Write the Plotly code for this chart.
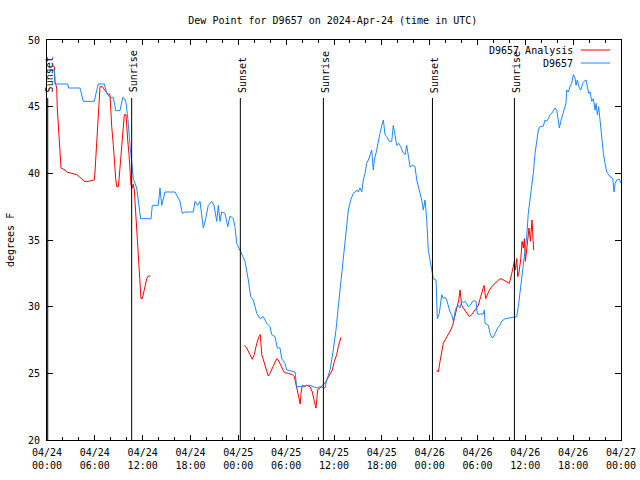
import pandas as pd
import plotly.graph_objects as go

BASE = pd.Timestamp("2024-04-24 00:00")

# D9657 observations: hours after 2024-04-24 00:00 UTC, dew point (F)
obs_hours = [0.09, 0.92, 1.0, 2.6, 2.7, 4.14, 4.55, 5.93, 6.15, 6.43, 7.19, 7.49, 7.9, 8.32, 8.62, 9.16,
             9.5, 9.72, 9.91, 10.16, 10.41, 10.62, 10.83, 11.25, 11.45, 11.75, 13.05, 13.21, 13.96, 14.17,
             14.39, 14.8, 16.06, 16.47, 16.68, 16.97, 17.31, 18.35, 18.57, 18.9, 19.19, 19.61, 19.91, 20.23,
             20.66, 20.95, 21.29, 21.49, 21.7, 21.91, 22.33, 22.67, 22.96, 23.37, 23.58, 23.8, 24.21, 24.62,
             24.84, 25.25, 25.55, 25.88, 26.31, 26.72, 27.13, 27.56, 27.97, 28.19, 28.6, 28.89, 29.23, 29.44,
             29.85, 30.07, 31.11, 31.32, 31.95, 32.58, 32.99, 33.41, 33.83, 34.25, 34.87, 35.09, 35.5, 35.91,
             36.25, 36.54, 36.75, 36.97, 37.17, 37.38, 37.59, 37.8, 38.1, 38.42, 38.64, 38.85, 39.05, 39.26,
             39.48, 39.68, 39.89, 40.1, 40.31, 40.52, 40.73, 40.93, 41.06, 41.36, 41.56, 41.77, 41.99, 42.19,
             42.4, 42.61, 42.94, 43.24, 43.44, 43.65, 43.87, 44.12, 44.37, 44.62, 44.91, 45.12, 45.32, 45.54,
             45.95, 46.16, 46.38, 46.58, 46.79, 47.0, 47.2, 47.42, 47.63, 47.83, 48.04, 48.26, 48.46, 48.8,
             48.96, 49.21, 49.39, 49.51, 49.71, 49.93, 50.14, 50.34, 50.55, 50.77, 50.97, 51.18, 51.39, 51.6,
             51.81, 52.02, 52.23, 52.44, 52.65, 52.85, 53.06, 53.27, 53.48, 53.82, 53.98, 54.73, 54.86, 54.95,
             55.36, 55.57, 55.78, 55.98, 56.19, 56.41, 56.61, 56.83, 57.04, 57.45, 58.92, 59.12, 59.33, 59.55,
             59.75, 59.96, 60.17, 60.37, 60.59, 60.8, 61.0, 61.22, 61.43, 61.63, 61.84, 62.26, 62.47, 62.68,
             62.89, 63.1, 63.31, 63.51, 63.73, 63.94, 64.14, 64.27, 64.44, 64.7, 64.85, 65.1, 65.19, 65.39,
             65.61, 65.82, 66.02, 66.23, 66.36, 66.52, 66.77, 66.95, 67.2, 67.37, 67.62, 67.78, 67.95, 68.12,
             68.33, 68.53, 68.74, 68.87, 69.03, 69.2, 69.37, 69.58, 69.79, 70.0, 70.21, 70.63, 70.97, 71.13,
             71.26, 71.46, 71.79, 72.0]
obs_dewpt = [47.75, 47.75, 46.7, 46.7, 46.4, 46.4, 45.4, 45.4, 46.0, 46.7, 46.7, 46.0, 45.7, 45.7, 44.7, 44.7,
             45.7, 45.6, 45.3, 44.0, 42.1, 40.6, 39.6, 38.9, 37.9, 36.6, 36.6, 37.6, 37.6, 38.9,
             37.6, 38.6, 38.6, 38.1, 37.9, 37.0, 37.1, 37.1, 37.9, 37.6, 37.9, 35.9, 36.6, 37.6,
             37.9, 37.6, 36.4, 37.6, 36.4, 37.1, 37.0, 36.0, 36.8, 36.6, 36.0, 34.75, 34.25, 33.75,
             33.4, 32.0, 30.75, 30.5, 29.5, 29.1, 29.25, 28.75, 28.5, 27.9, 27.75, 26.9, 26.9, 26.1,
             25.75, 25.25, 25.1, 24.0, 24.0, 24.1, 24.1, 24.0, 23.9, 24.0, 23.9, 24.5, 25.25, 26.75,
             28.25, 30.0, 31.25, 32.75, 34.0, 35.25, 36.25, 37.25, 38.0, 38.5, 38.6, 38.75, 38.6, 38.9,
             38.6, 39.5, 40.0, 40.75, 41.0, 41.4, 41.75, 40.25, 41.0, 41.75, 42.25, 43.0, 43.6, 44.0,
             42.9, 42.75, 42.4, 42.4, 43.6, 42.75, 42.1, 42.25, 42.0, 41.6, 41.4, 42.1, 41.25, 40.5,
             40.6, 40.5, 39.5, 39.0, 38.6, 38.0, 37.25, 38.0, 36.5, 34.25, 33.5, 32.9, 32.1, 32.0,
             29.1, 29.5, 30.5, 30.9, 30.6, 30.7, 30.5, 30.0, 29.6, 29.4, 28.9, 29.6, 30.0, 30.1,
             29.9, 30.4, 30.3, 30.4, 30.2, 30.0, 30.1, 30.3, 30.45, 30.4, 29.45, 29.45, 29.75, 28.75,
             28.6, 28.0, 27.7, 27.7, 28.0, 28.25, 28.5, 28.6, 28.9, 29.1, 29.25, 30.0, 31.0, 32.1,
             33.25, 34.25, 35.25, 37.0, 38.0, 39.0, 40.0, 41.5, 42.25, 43.25, 43.5, 43.55, 44.0, 43.9,
             44.1, 44.4, 44.5, 44.75, 44.9, 44.75, 43.75, 43.4, 43.9, 44.4, 44.75, 45.25, 46.25, 46.1,
             46.5, 46.75, 47.4, 47.15, 46.6, 47.0, 46.4, 46.25, 46.75, 46.9, 47.0, 46.6, 46.0, 46.1,
             45.4, 45.6, 44.75, 45.25, 44.4, 45.0, 43.9, 42.5, 41.5, 40.75, 40.1, 39.75, 39.6, 38.6,
             39.25, 39.5, 39.55, 39.25]

# D9657 Analysis, three separate segments
ana1_hours = [0.66, 0.92, 1.0, 1.22, 1.29, 1.42, 1.54, 1.72, 1.76, 2.26, 2.47, 3.1, 3.73, 4.05, 4.35, 4.68,
              5.18, 5.93, 6.02, 6.15, 6.23, 6.36, 6.43, 6.56, 6.65, 6.94, 7.15, 7.53, 7.9, 7.99, 8.12, 8.32,
              8.44, 8.62, 8.74, 8.94, 9.03, 9.16, 9.28, 9.45, 9.57, 9.7, 9.91, 10.0, 10.12, 10.29, 10.41,
              10.54, 10.7, 10.83, 10.95, 11.13, 11.25, 11.38, 11.54, 11.67, 11.79, 11.95, 12.13, 12.29,
              12.51, 12.71, 12.96]
ana1_dewpt = [48.1, 48.0, 46.9, 46.4, 44.9, 43.6, 42.25, 40.9, 40.4, 40.25, 40.1, 40.0, 39.9, 39.75, 39.6, 39.4,
              39.4, 39.5, 40.1, 41.4, 42.4, 43.6, 44.9, 46.1, 46.5, 46.5, 46.3, 46.0, 45.9, 44.75, 43.5, 42.1,
              40.9, 39.6, 39.0, 39.0, 39.5, 40.6, 41.4, 42.4, 43.9, 44.4, 44.4, 43.4, 42.5, 41.4, 40.25,
              39.1, 38.9, 39.2, 38.75, 36.9, 35.4, 33.9, 32.9, 31.4, 30.6, 30.6, 31.0, 31.5,
              32.1, 32.3, 32.3]
ana2_hours = [24.75, 25.05, 25.46, 25.75, 26.0, 26.31, 26.59, 26.76, 26.94, 27.35, 27.76, 27.97, 28.39, 28.81,
              29.01, 29.44, 29.77, 30.27, 30.77, 31.02, 31.32, 31.61, 31.77, 31.86, 32.03, 32.36, 32.58,
              32.99, 33.28, 33.53, 33.74, 33.87, 33.96, 34.25, 34.53, 34.87, 35.21, 35.5, 35.79, 36.04,
              36.34, 36.54, 36.88]
ana2_dewpt = [27.1, 26.9, 26.4, 26.05, 26.4, 27.25, 27.75, 27.9, 26.4, 25.6, 24.8, 25.0, 25.5, 26.1,
              26.0, 25.5, 25.05, 25.0, 24.9, 24.75, 23.9, 23.25, 22.7, 23.5, 24.1, 24.0, 24.1,
              24.0, 23.6, 22.9, 22.4, 23.25, 23.8, 23.9, 24.1, 24.25, 24.6, 25.0, 25.25, 25.9,
              26.4, 27.0, 27.7]
ana3_hours = [48.88, 49.09, 49.3, 49.51, 49.71, 49.93, 50.14, 50.34, 50.64, 50.89, 51.05, 51.31, 51.47, 51.65,
              51.81, 51.9, 52.02, 52.23, 52.65, 52.98, 53.27, 53.69, 54.1, 54.4, 54.65, 54.82, 55.03, 55.24,
              55.49, 55.92, 56.41, 56.83, 57.24, 57.75, 58.0, 58.3, 58.51, 58.63, 58.76, 58.93, 59.05, 59.21,
              59.43, 59.59, 59.75, 59.88, 60.01, 60.17, 60.3, 60.46, 60.64, 60.76, 60.84, 60.97, 61.06]
ana3_dewpt = [25.25, 25.1, 25.9, 26.6, 27.25, 27.5, 27.7, 27.9, 28.25, 28.6, 29.0, 29.6, 30.1, 30.5,
              31.25, 30.6, 30.1, 29.9, 29.5, 29.25, 29.4, 29.75, 30.1, 30.75, 31.4, 31.6, 30.6, 30.9,
              31.25, 31.6, 31.9, 32.1, 32.0, 31.8, 31.75, 32.5, 33.1, 33.4, 32.75, 33.6, 32.25, 32.6,
              33.6, 34.9, 34.4, 35.1, 33.4, 34.5, 35.25, 35.9, 34.9, 36.1, 36.5, 35.0, 34.25]

# Sun events (hours after 2024-04-24 00:00 UTC)
sun_hours = [0.09, 10.62, 24.25, 34.67, 48.35, 58.63]
sun_labels = ["Sunset", "Sunrise", "Sunset", "Sunrise", "Sunset", "Sunrise"]
sun_line_top = 45.65
sun_label_base = 45.9

tick_hours = list(range(0, 73, 6))
tick_labels = [f"{(BASE + pd.Timedelta(hours=h)).strftime('%m/%d')}<br>{(BASE + pd.Timedelta(hours=h)).strftime('%H:%M')}"
               for h in tick_hours]

def to_time(hours):
    return [BASE + pd.Timedelta(hours=h) for h in hours]

ana_x, ana_y = [], []
for hs, vs in [(ana1_hours, ana1_dewpt), (ana2_hours, ana2_dewpt), (ana3_hours, ana3_dewpt)]:
    ana_x += to_time(hs) + [None]
    ana_y += vs + [None]

RED = "#ff0000"
BLUE = "#1a88ff"
FONT = "DejaVu Sans Mono"

fig = go.Figure()
fig.add_trace(go.Scatter(x=ana_x, y=ana_y, mode="lines", name="D9657 Analysis",
                         line=dict(color=RED, width=1), connectgaps=False))
fig.add_trace(go.Scatter(x=to_time(obs_hours), y=obs_dewpt, mode="lines", name="D9657",
                         line=dict(color=BLUE, width=1)))

for t, lab in zip(to_time(sun_hours), sun_labels):
    fig.add_shape(type="line", xref="x", yref="y", x0=t, x1=t, y0=20, y1=sun_line_top,
                  line=dict(color="black", width=1))
    fig.add_annotation(x=t, y=sun_label_base, xref="x", yref="y", text=lab, textangle=-90,
                       showarrow=False, xanchor="center", yanchor="bottom", xshift=2,
                       font=dict(family=FONT, size=10, color="black"))

# Legend drawn gnuplot-style: text then line sample
legend_rows = [("D9657 Analysis", RED, 0.975), ("D9657", BLUE, 0.9425)]
for name, col, py in legend_rows:
    fig.add_annotation(x=0.92, y=py, xref="paper", yref="paper", text=name, showarrow=False,
                       xanchor="right", yanchor="middle", font=dict(family=FONT, size=10, color="black"))
    fig.add_shape(type="line", xref="paper", yref="paper", x0=0.930, x1=0.981, y0=py, y1=py,
                  line=dict(color=col, width=1))

fig.add_annotation(x=0, y=0.5, xref="paper", yref="paper", text="degrees F", textangle=-90,
                   showarrow=False, xshift=-37, xanchor="center", yanchor="middle",
                   font=dict(family=FONT, size=10, color="black"))

fig.update_layout(
    width=640, height=480,
    margin=dict(l=47, r=19, t=40, b=40, autoexpand=False),
    paper_bgcolor="white", plot_bgcolor="white",
    showlegend=False,
    title=dict(text="Dew Point for D9657 on 2024-Apr-24 (time in UTC)", x=0.52, xanchor="center",
               y=1 - 20 / 480, yanchor="middle", font=dict(family=FONT, size=10, color="black")),
    font=dict(family=FONT, size=10, color="black"),
)
fig.update_xaxes(
    type="date", range=[BASE, BASE + pd.Timedelta(hours=72)], automargin=False,
    tickmode="array", tickvals=to_time(tick_hours), ticktext=tick_labels,
    ticks="inside", ticklen=5, tickcolor="black", showline=True, linecolor="black", linewidth=1,
    mirror="allticks", showgrid=False, zeroline=False, ticklabelstandoff=3,
    minor=dict(tickmode="array", tickvals=to_time(list(range(0, 73, 2))), ticks="inside", ticklen=3,
               tickcolor="black", showgrid=False),
    tickfont=dict(family=FONT, size=10, color="black"),
)
fig.update_yaxes(
    range=[20, 50], tickmode="linear", tick0=20, dtick=5, automargin=False,
    ticks="inside", ticklen=6, tickcolor="black", showline=True, linecolor="black", linewidth=1,
    mirror="allticks", showgrid=False, zeroline=False, ticklabelstandoff=4,
    tickfont=dict(family=FONT, size=10, color="black"),
)

fig.write_html("out.html", config={"displayModeBar": False, "staticPlot": True},
               post_script="document.body.style.margin='0';document.body.style.overflow='hidden';")
